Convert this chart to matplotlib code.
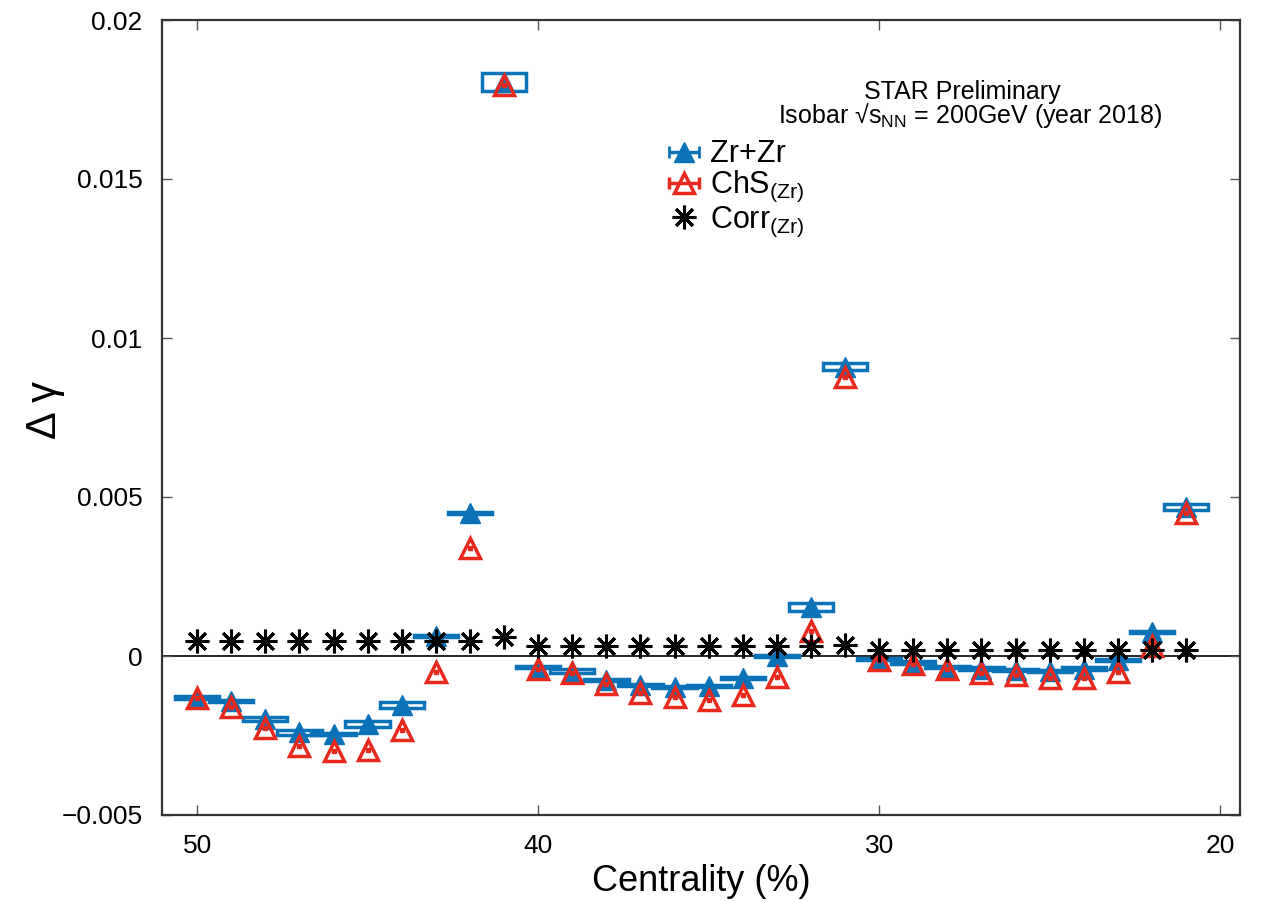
import numpy as np
import matplotlib
matplotlib.use('Agg')
import matplotlib.pyplot as plt

plt.rcParams['font.family'] = ['Liberation Sans', 'DejaVu Sans']
plt.rcParams['mathtext.fontset'] = 'custom'
plt.rcParams['mathtext.rm'] = 'Liberation Sans'
plt.rcParams['mathtext.it'] = 'Liberation Sans'

# centrality bins (%)
centrality = np.arange(50, 20, -1)

# Zr+Zr delta gamma
zr = [-0.00130, -0.00142, -0.00198, -0.00240, -0.00245, -0.00214, -0.00154, 0.00063, 0.00450, 0.01805,
      -0.00035, -0.00047, -0.00075, -0.00091, -0.00097, -0.00094, -0.00069, 0.00000, 0.00155, 0.00909,
      -0.00010, -0.00020, -0.00034, -0.00040, -0.00044, -0.00047, -0.00040, -0.00013, 0.00075, 0.00469]
# systematic half-heights for the Zr+Zr boxes
zr_sys = [0.00004, 0.00004, 0.00007, 0.00007, 0.00004, 0.00010, 0.00010, 0.00003, 0.00003, 0.00028,
          0.00004, 0.00005, 0.00004, 0.00004, 0.00004, 0.00004, 0.00004, 0.00004, 0.00012, 0.00011,
          0.00004, 0.00004, 0.00004, 0.00004, 0.00004, 0.00004, 0.00004, 0.00004, 0.00004, 0.00010]
# charge-shuffled
chs = [-0.00132, -0.00160, -0.00226, -0.00283, -0.00300, -0.00296, -0.00233, -0.00050, 0.00340, 0.01795,
       -0.00040, -0.00053, -0.00088, -0.00116, -0.00128, -0.00138, -0.00123, -0.00065, 0.00080, 0.00878,
       -0.00012, -0.00025, -0.00040, -0.00055, -0.00060, -0.00070, -0.00070, -0.00050, 0.00030, 0.00450]
# correlated part
corr = [0.00046, 0.00046, 0.00046, 0.00046, 0.00046, 0.00046, 0.00046, 0.00047, 0.00047, 0.00060,
        0.00031, 0.00030, 0.00030, 0.00030, 0.00030, 0.00030, 0.00030, 0.00030, 0.00030, 0.00035,
        0.00020, 0.00020, 0.00020, 0.00020, 0.00020, 0.00020, 0.00020, 0.00020, 0.00020, 0.00020]

blue = '#0a72b8'
red = '#e8291c'

fig = plt.figure(figsize=(12.72, 9.01), dpi=100)
ax = fig.add_axes([162 / 1272, 1 - 815 / 901, (1240 - 162) / 1272, (815 - 20) / 901])

ax.axhline(0, color='black', lw=1.2, zorder=1)

zr = np.array(zr)
zr_sys = np.array(zr_sys)
ax.bar(centrality, 2 * zr_sys, width=1.3, bottom=zr - zr_sys, fill=False,
       edgecolor=blue, linewidth=2.5, zorder=2)
ax.plot(centrality, zr, '^', color=blue, ms=14, zorder=3)
ax.plot(centrality, chs, '^', mfc='none', mec=red, mew=2.5, ms=15, zorder=4)
ax.plot(centrality, chs, 's', color=red, ms=3.5, zorder=4)
ax.plot(centrality, corr, ls='none', marker=(8, 2, 0), color='black', ms=17, mew=2.2, zorder=5)

# legend proxies
h1 = ax.errorbar([np.nan], [np.nan], xerr=[1], fmt='^', color=blue, ms=14, capsize=4,
                 elinewidth=2.5, capthick=2)
h2 = ax.errorbar([np.nan], [np.nan], xerr=[1], fmt='^', color=red, mfc='none', mew=2.5,
                 ms=14, capsize=4, elinewidth=2.5, capthick=2)
h3, = ax.plot([np.nan], [np.nan], ls='none', marker=(8, 2, 0), color='black', ms=17, mew=2.2)
ax.legend([h1, h2, h3], ['Zr+Zr', 'ChS$_{\\mathrm{(Zr)}}$', 'Corr$_{\\mathrm{(Zr)}}$'],
          loc='upper left', bbox_to_anchor=(652 / 1272, 1 - 124 / 901),
          bbox_transform=fig.transFigure, frameon=False, fontsize=22,
          handlelength=1.1, handletextpad=0.3, labelspacing=0.0, borderpad=0)

fig.text(962 / 1272, 1 - 92 / 901, 'STAR Preliminary', ha='center', va='center', fontsize=18)
fig.text(1162 / 1272, 1 - 116 / 901, 'Isobar √s$_{\\mathrm{NN}}$ = 200GeV (year 2018)',
         ha='right', va='center', fontsize=18)

ax.set_xlim(51.03, 19.42)
ax.set_ylim(-0.005, 0.02)
ax.set_xticks([50, 40, 30, 20])
ax.set_yticks([-0.005, 0, 0.005, 0.01, 0.015, 0.02])
ax.set_yticklabels(['\u22120.005', '0', '0.005', '0.01', '0.015', '0.02'])
ax.tick_params(direction='in', length=7, width=1, color='#555555', labelsize=19,
               top=True, right=True, pad=14)
for s in ax.spines.values():
    s.set_linewidth(1.6)
    s.set_color('#333333')

ax.set_xlabel('Centrality (%)', fontsize=26, labelpad=4)
fig.text(45 / 1272, 1 - 410 / 901, 'Δ γ', rotation=90, ha='center', va='center', fontsize=30)

fig.savefig('out.png', dpi=100)
